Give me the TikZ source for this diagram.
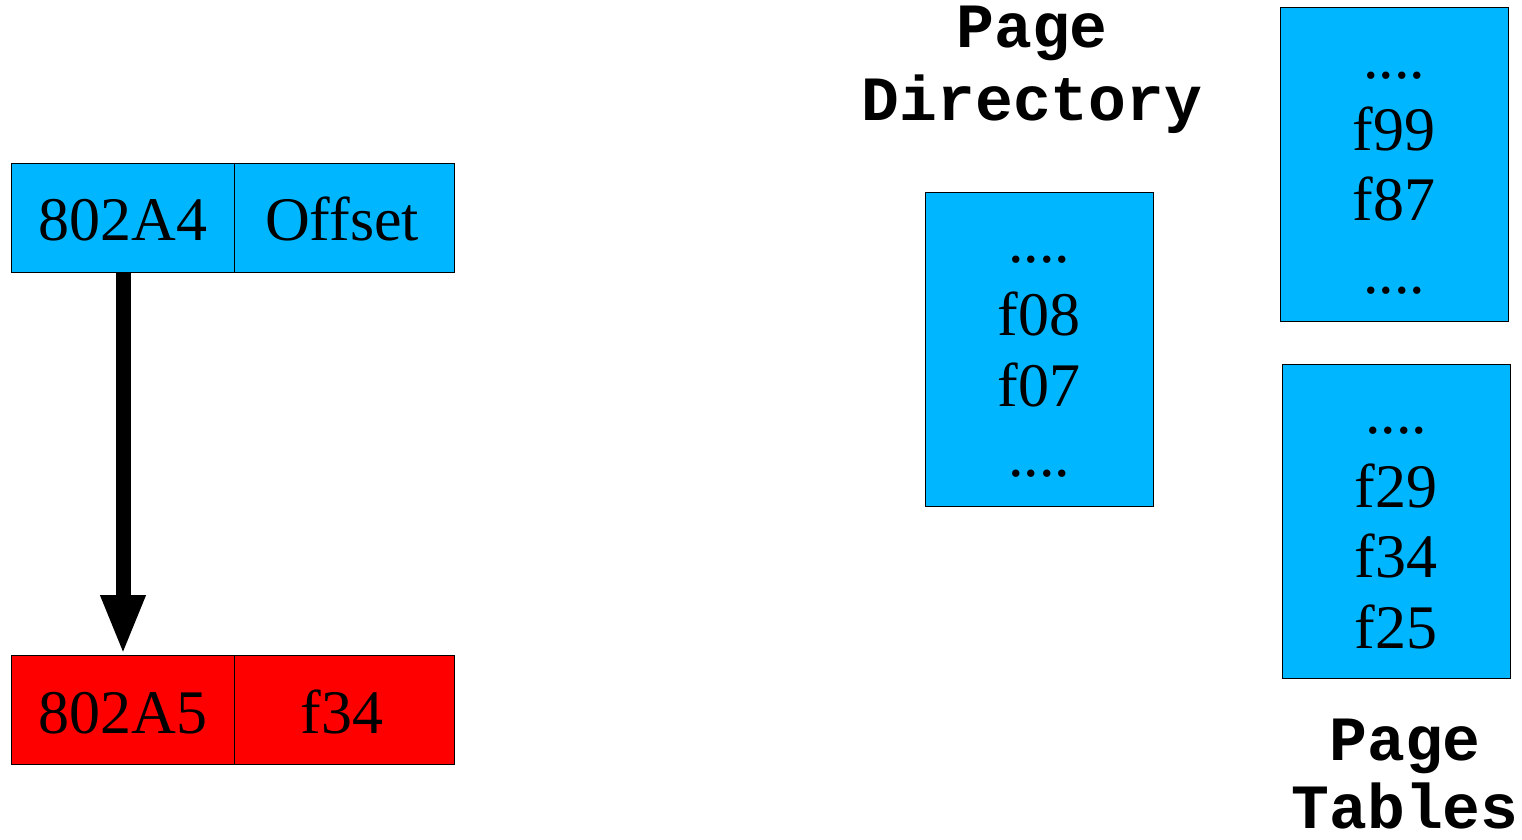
\documentclass[tikz,border=0pt]{standalone}
\usepackage{fontspec}
\setmainfont{Liberation Serif}
\newfontfamily\labfont{Liberation Mono}
\usetikzlibrary{arrows.meta}
\definecolor{cellblue}{RGB}{0,183,255}
\definecolor{cellred}{RGB}{255,0,0}
\tikzset{
  cell/.style={draw=black, line width=1pt, inner sep=0pt, anchor=north west},
  big/.style={font=\fontsize{62}{70}\selectfont, anchor=base, inner sep=0pt},
  lab/.style={font=\labfont\bfseries\fontsize{63}{70}\selectfont, anchor=base, inner sep=0pt}
}
\begin{document}
\begin{tikzpicture}[x=1pt,y=-1pt]
\useasboundingbox (0,0) rectangle (1522,839);
% top address
\node[cell, fill=cellblue, minimum width=223pt, minimum height=109pt] (a1) at (11,163) {};
\node[cell, fill=cellblue, minimum width=220pt, minimum height=109pt] (a2) at (234,163) {};
\node[big] (t802A4) at (123,240) {802A4};
\node[big] (toff) at (342,240) {Offset};
% bottom address
\node[cell, fill=cellred, minimum width=223pt, minimum height=109pt] (b1) at (11,655) {};
\node[cell, fill=cellred, minimum width=220pt, minimum height=109pt] (b2) at (234,655) {};
\node[big] (t802A5) at (123,733) {802A5};
\node[big] (tf34) at (342,733) {f34};
% arrow
\coordinate (as) at (123,272);
\coordinate (ae) at (123,655);
\draw[line width=15pt, -{Triangle[width=41pt,length=60pt]}] (as) -- (ae);
% page directory
\node[lab] (pd1) at (1032,47) {Page};
\node[lab] (pd2) at (1032,120) {Directory};
\node[cell, fill=cellblue, minimum width=228pt, minimum height=314pt] (pd) at (925,192) {};
\node[big] (pdd1) at (1039,262) {....};
\node[big] (pdf08) at (1039,335) {f08};
\node[big] (pdf07) at (1039,406) {f07};
\node[big] (pdd2) at (1039,476) {....};
% page tables
\node[cell, fill=cellblue, minimum width=228pt, minimum height=314pt] (pt1) at (1280,7) {};
\node[big] (pt1d1) at (1394,78) {....};
\node[big] (pt1f99) at (1394,150) {f99};
\node[big] (pt1f87) at (1394,220) {f87};
\node[big] (pt1d2) at (1394,293) {....};
\node[cell, fill=cellblue, minimum width=228pt, minimum height=314pt] (pt2) at (1282,364) {};
\node[big] (pt2d1) at (1396,433) {....};
\node[big] (pt2f29) at (1396,507) {f29};
\node[big] (pt2f34) at (1396,577) {f34};
\node[big] (pt2f25) at (1396,648) {f25};
\node[lab] (ptl1) at (1405,760) {Page};
\node[lab] (ptl2) at (1405,828) {Tables};
\end{tikzpicture}
\end{document}
